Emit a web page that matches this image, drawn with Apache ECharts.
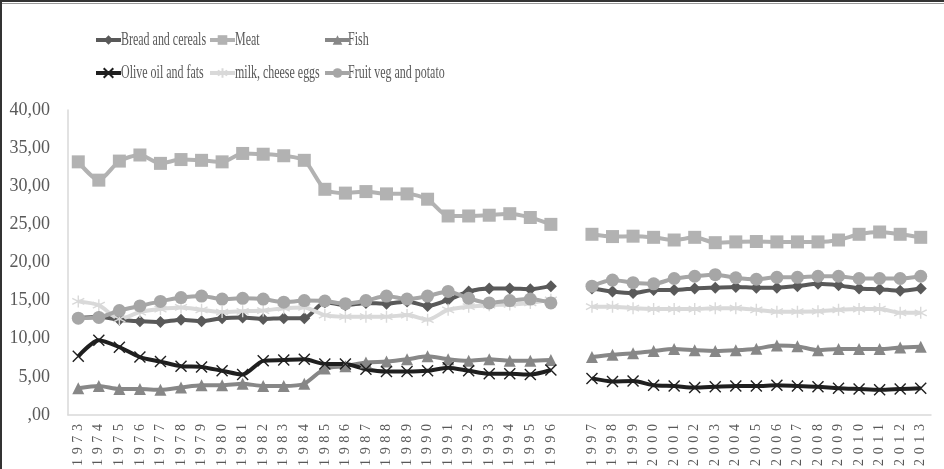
<!DOCTYPE html>
<html>
<head>
<meta charset="utf-8">
<script src="https://cdn.jsdelivr.net/npm/echarts@6/dist/echarts.min.js"></script>
<style>
  html, body { margin: 0; padding: 0; background: #ffffff; }
  #chart { width: 944px; height: 469px; }
</style>
</head>
<body>
<div id="chart"></div>
<script>
// Year categories; the empty entry keeps a break between 1996 and 1997
const categories = [
  '1973','1974','1975','1976','1977','1978','1979','1980','1981','1982','1983','1984',
  '1985','1986','1987','1988','1989','1990','1991','1992','1993','1994','1995','1996',
  '',
  '1997','1998','1999','2000','2001','2002','2003','2004','2005','2006','2007','2008',
  '2009','2010','2011','2012','2013'
];

// Shares by food group (null = break)
const breadCereals = [
  12.7, 12.9, 12.5, 12.3, 12.2, 12.5, 12.3, 12.7, 12.8, 12.6, 12.7, 12.7,
  14.8, 14.4, 14.7, 14.6, 14.9, 14.3, 15.1, 16.2, 16.6, 16.6, 16.5, 16.9,
  null,
  16.6, 16.2, 16.0, 16.4, 16.4, 16.6, 16.7, 16.8, 16.7, 16.7, 16.9, 17.2,
  17.0, 16.6, 16.5, 16.3, 16.6
];
const meat = [
  33.2, 30.8, 33.3, 34.1, 33.0, 33.5, 33.4, 33.2, 34.3, 34.2, 34.0, 33.4,
  29.6, 29.1, 29.3, 29.0, 29.0, 28.3, 26.1, 26.1, 26.2, 26.4, 25.9, 25.0,
  null,
  23.7, 23.4, 23.45, 23.3, 22.95, 23.3, 22.6, 22.7, 22.75, 22.7, 22.7, 22.7,
  22.95, 23.7, 24.0, 23.7, 23.3
];
const fish = [
  3.5, 3.8, 3.4, 3.4, 3.3, 3.6, 3.9, 3.9, 4.1, 3.8, 3.8, 4.1,
  6.1, 6.4, 6.9, 7.0, 7.3, 7.7, 7.3, 7.1, 7.3, 7.1, 7.1, 7.2,
  null,
  7.6, 7.9, 8.1, 8.4, 8.65, 8.5, 8.4, 8.5, 8.7, 9.1, 9.0, 8.5,
  8.65, 8.65, 8.65, 8.85, 8.95
];
const oliveOilFats = [
  7.7, 9.8, 8.9, 7.6, 7.0, 6.4, 6.3, 5.8, 5.3, 7.1, 7.2, 7.3,
  6.7, 6.7, 6.0, 5.7, 5.7, 5.8, 6.2, 5.8, 5.4, 5.4, 5.3, 5.9,
  null,
  4.8, 4.4, 4.45, 3.9, 3.8, 3.6, 3.7, 3.8, 3.8, 3.9, 3.8, 3.7,
  3.5, 3.4, 3.3, 3.4, 3.5
];
const milkCheeseEggs = [
  14.9, 14.4, 12.6, 13.5, 13.9, 14.1, 13.8, 13.5, 13.6, 13.7, 14.0, 14.1,
  13.1, 12.9, 12.9, 12.9, 13.1, 12.5, 13.8, 14.2, 14.4, 14.5, 14.7, 15.1,
  null,
  14.2, 14.2, 14.0, 13.9, 13.9, 13.9, 14.0, 14.0, 13.8, 13.55, 13.55, 13.6,
  13.8, 13.9, 13.9, 13.4, 13.4
];
const fruitVegPotato = [
  12.7, 12.8, 13.7, 14.3, 14.9, 15.4, 15.6, 15.2, 15.3, 15.2, 14.8, 15.0,
  14.95, 14.6, 15.0, 15.6, 15.2, 15.6, 16.2, 15.3, 14.7, 15.0, 15.2, 14.7,
  null,
  16.9, 17.7, 17.35, 17.2, 17.9, 18.2, 18.4, 18.0, 17.8, 18.05, 18.05, 18.2,
  18.2, 17.9, 17.9, 17.9, 18.2
];

// Axis scale
const yMin = 0, yMax = 40, yStep = 5;

const FONT = '"Liberation Serif", "Times New Roman", serif';
const crossPath = 'path://M0,0L10,10M10,0L0,10';
const starPath = 'path://M5,0L5,10M0.7,2.5L9.3,7.5M0.7,7.5L9.3,2.5';

function lineSeries(name, data, color, symbol, size, extra) {
  return Object.assign({
    name: name,
    type: 'line',
    data: data,
    smooth: 0.25,
    connectNulls: false,
    symbol: symbol,
    symbolSize: size,
    showAllSymbol: true,
    color: color,
    lineStyle: { color: color, width: 4 },
    itemStyle: { color: color },
    emphasis: { disabled: true },
    z: 2
  }, extra || {});
}

const series = [
  lineSeries('Bread and cereals', breadCereals, '#595959', 'diamond', 12),
  lineSeries('Meat', meat, '#b2b2b2', 'rect', 13),
  lineSeries('Fish', fish, '#878787', 'triangle', 12),
  lineSeries('Olive oil and fats', oliveOilFats, '#1f1f1f', crossPath, 11, {
    itemStyle: { color: '#1f1f1f', borderColor: '#1f1f1f', borderWidth: 1.4 }
  }),
  lineSeries('milk, cheese eggs', milkCheeseEggs, '#d9d9d9', starPath, 12, {
    itemStyle: { color: '#d9d9d9', borderColor: '#d9d9d9', borderWidth: 1.4 }
  }),
  lineSeries('Fruit veg and potato', fruitVegPotato, '#a6a6a6', 'circle', 13)
];

// Legend entries laid out in fixed columns: icon position and label position
const legendSlots = [
  { name: 'Bread and cereals', icon: 94, text: 121, row: 40 },
  { name: 'Meat', icon: 208, text: 235, row: 40 },
  { name: 'Fish', icon: 323, text: 348, row: 40 },
  { name: 'Olive oil and fats', icon: 94, text: 121, row: 73 },
  { name: 'milk, cheese eggs', icon: 208, text: 235, row: 73 },
  { name: 'Fruit veg and potato', icon: 323, text: 348, row: 73 }
];

const chart = echarts.init(document.getElementById('chart'), null, { renderer: 'canvas' });
chart.setOption({
  animation: false,
  backgroundColor: '#ffffff',
  textStyle: { fontFamily: FONT },
  legend: legendSlots.map(s => ({
    data: [s.name],
    left: s.icon,
    top: s.row - 6,
    itemWidth: 25,
    itemHeight: 12,
    itemGap: 0,
    padding: 0,
    formatter: () => '',
    lineStyle: { width: 4 },
    textStyle: { fontSize: 12 }
  })),
  grid: { left: 68, right: 13, top: 110, bottom: 54, containLabel: false },
  xAxis: {
    type: 'category',
    data: categories,
    boundaryGap: true,
    axisLine: { show: true, lineStyle: { color: '#d9d9d9', width: 1.5 } },
    axisTick: { show: false },
    axisLabel: {
      interval: 0,
      rotate: 90,
      margin: 9,
      fontFamily: FONT,
      fontSize: 14,
      color: '#595959',
      formatter: v => v.split('').join('\u2004')
    },
    splitLine: { show: false }
  },
  yAxis: {
    type: 'value',
    min: yMin,
    max: yMax,
    interval: yStep,
    axisLine: { show: true, lineStyle: { color: '#d9d9d9', width: 1.5 } },
    axisTick: { show: false },
    splitLine: { show: false },
    axisLabel: {
      margin: 18,
      fontFamily: FONT,
      fontSize: 18,
      color: '#595959',
      formatter: v => v === 0 ? ',00' : v.toFixed(2).replace('.', ',')
    }
  },
  graphic: [
    { type: 'line', shape: { x1: 0, y1: 1, x2: 944, y2: 1 }, style: { stroke: '#333333', lineWidth: 2 }, silent: true },
    { type: 'line', shape: { x1: 0, y1: 3.5, x2: 944, y2: 3.5 }, style: { stroke: '#9a9a9a', lineWidth: 1 }, silent: true },
    { type: 'line', shape: { x1: 1, y1: 0, x2: 1, y2: 469 }, style: { stroke: '#333333', lineWidth: 2 }, silent: true }
  ].concat(legendSlots.map(s => ({
    type: 'text',
    x: s.text,
    y: s.row,
    scaleX: 0.63,
    silent: true,
    style: {
      text: s.name,
      fontFamily: FONT,
      fontSize: 19,
      fill: '#595959',
      verticalAlign: 'middle',
      align: 'left'
    }
  }))),
  series: series
});
</script>
</body>
</html>
